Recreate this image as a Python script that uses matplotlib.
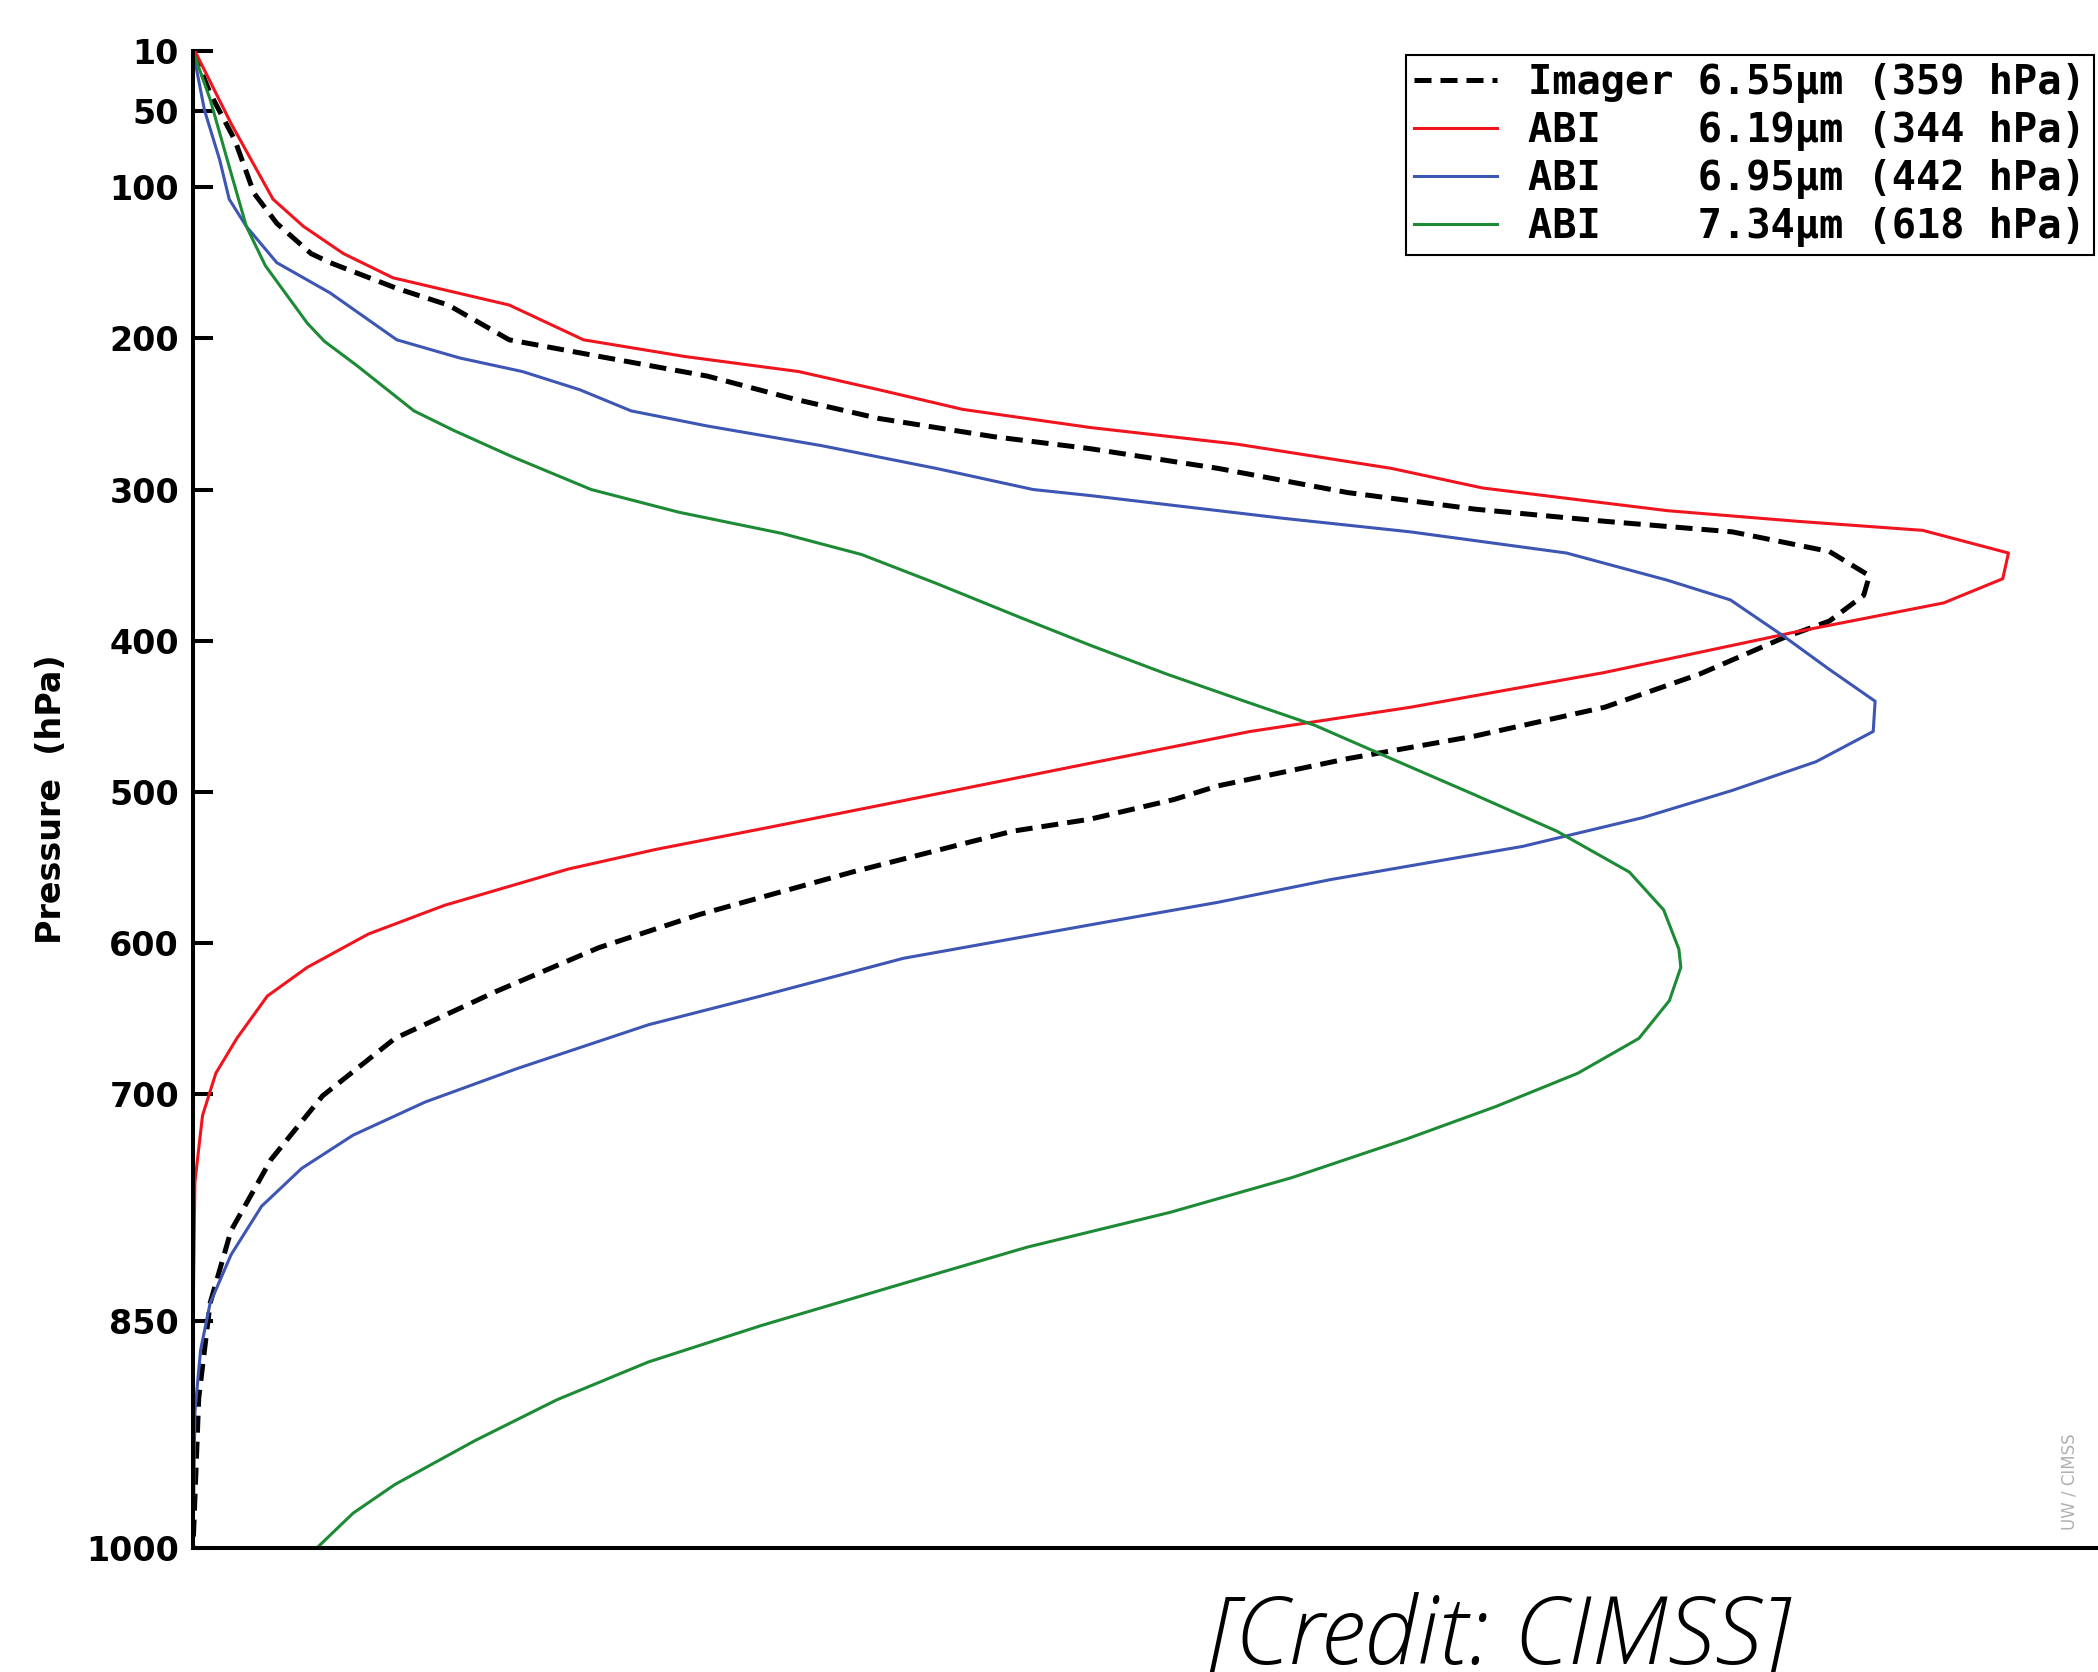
import matplotlib.pyplot as plt

# pressure (hPa) and normalized weighting function
imager_p = [10, 38, 69, 104, 124, 144, 150, 167, 178, 201, 211, 225, 240, 253, 265, 273,
            286, 302, 313, 321, 328, 341, 357, 370, 387, 398, 422, 444, 463, 478, 496,
            505, 518, 526, 553, 581, 603, 632, 663, 701, 743, 790, 838, 901, 1000]
imager_w = [0.0, 0.009, 0.022, 0.032, 0.044, 0.062, 0.072, 0.107, 0.134, 0.166, 0.209,
            0.270, 0.315, 0.360, 0.420, 0.471, 0.538, 0.606, 0.673, 0.741, 0.808, 0.859,
            0.880, 0.877, 0.859, 0.835, 0.791, 0.741, 0.673, 0.606, 0.538, 0.515, 0.471,
            0.430, 0.346, 0.266, 0.213, 0.159, 0.106, 0.068, 0.041, 0.020, 0.009, 0.003, 0.0]

abi_619_p = [10, 58, 108, 126, 144, 160, 178, 201, 212, 222, 234, 247, 259, 270, 286,
             299, 314, 321, 327, 342, 359, 375, 394, 421, 444, 460, 481, 509, 524, 538,
             551, 575, 594, 616, 635, 663, 686, 714, 758, 853, 1000]
abi_619_w = [0.001, 0.020, 0.042, 0.058, 0.079, 0.105, 0.166, 0.205, 0.258, 0.318, 0.360,
             0.404, 0.471, 0.548, 0.629, 0.677, 0.774, 0.842, 0.908, 0.953, 0.950, 0.919,
             0.842, 0.741, 0.639, 0.555, 0.471, 0.360, 0.300, 0.243, 0.197, 0.132, 0.092,
             0.060, 0.039, 0.023, 0.012, 0.005, 0.001, 0.0, 0.0]

abi_695_p = [10, 49, 82, 108, 126, 150, 170, 201, 213, 222, 234, 248, 258, 271, 286, 300,
             304, 319, 328, 342, 360, 373, 397, 419, 440, 460, 480, 499, 517, 536, 558,
             573, 587, 610, 635, 654, 683, 705, 727, 749, 774, 806, 838, 869, 910, 1000]
abi_695_w = [0.0, 0.006, 0.014, 0.019, 0.028, 0.044, 0.072, 0.107, 0.140, 0.173, 0.203,
             0.230, 0.270, 0.330, 0.390, 0.441, 0.471, 0.572, 0.639, 0.721, 0.774, 0.807,
             0.835, 0.859, 0.883, 0.882, 0.852, 0.808, 0.761, 0.698, 0.597, 0.538, 0.475,
             0.373, 0.298, 0.239, 0.170, 0.122, 0.084, 0.057, 0.036, 0.020, 0.009, 0.004,
             0.001, 0.0]

abi_734_p = [10, 42, 82, 126, 152, 190, 202, 218, 248, 261, 278, 300, 315, 329, 343, 362,
             385, 403, 422, 440, 456, 478, 502, 526, 553, 578, 604, 616, 638, 663, 686,
             708, 730, 755, 778, 801, 825, 853, 877, 902, 929, 958, 977, 1000]
abi_734_w = [0.0, 0.009, 0.018, 0.028, 0.038, 0.060, 0.069, 0.086, 0.116, 0.137, 0.167,
             0.209, 0.255, 0.309, 0.351, 0.390, 0.435, 0.471, 0.511, 0.552, 0.589, 0.629,
             0.673, 0.716, 0.754, 0.772, 0.780, 0.781, 0.775, 0.759, 0.727, 0.684, 0.636,
             0.577, 0.513, 0.438, 0.373, 0.298, 0.239, 0.191, 0.148, 0.106, 0.084, 0.065]

labels = ["Imager 6.55\u03bcm (359 hPa)",
          "ABI    6.19\u03bcm (344 hPa)",
          "ABI    6.95\u03bcm (442 hPa)",
          "ABI    7.34\u03bcm (618 hPa)"]
yticks = [10, 50, 100, 200, 300, 400, 500, 600, 700, 850, 1000]

W, H = 2098, 1672
fig = plt.figure(figsize=(W / 100, H / 100), dpi=100)
ax = fig.add_axes([193 / W, 1 - 1548 / H, 1 - 193 / W, (1548 - 51) / H])

ax.plot(imager_w, imager_p, color="black", lw=3.6, dashes=(3.4, 1.8), label=labels[0])
ax.plot(abi_619_w, abi_619_p, color="#f0141e", lw=2.2, label=labels[1])
ax.plot(abi_695_w, abi_695_p, color="#3d55b3", lw=2.2, label=labels[2])
ax.plot(abi_734_w, abi_734_p, color="#1d8a35", lw=2.2, label=labels[3])

ax.set_xlim(0, 1)
ax.set_ylim(1000, 10)
ax.set_xticks([])
ax.set_yticks(yticks)
ax.set_yticklabels([str(t) for t in yticks], fontsize=24, fontweight="bold")
ax.tick_params(axis="y", direction="in", length=14.4, width=2.9, pad=10)
ax.spines["top"].set_visible(False)
ax.spines["right"].set_visible(False)
ax.spines["left"].set_linewidth(2.9)
ax.spines["bottom"].set_linewidth(2.9)
ax.set_ylabel("Pressure  (hPa)", fontsize=24, fontweight="bold", labelpad=13)

leg = ax.legend(loc="upper right", bbox_to_anchor=(2094 / W, 1 - 55 / H),
                bbox_transform=fig.transFigure,
                prop={"family": "DejaVu Sans Mono", "weight": "bold", "size": 29},
                fancybox=False, edgecolor="black", framealpha=1,
                handlelength=2.06, handletextpad=0.77, borderpad=0.2,
                labelspacing=0.2, borderaxespad=0)
leg.get_frame().set_linewidth(1.5)

fig.text(2070 / W, 1 - 1482 / H, "UW / CIMSS", rotation=90, color="#b0b0b0",
         fontsize=12, ha="center", va="center")
fig.text(1211 / W, 1 - 1664 / H, "[Credit: CIMSS]", fontsize=68, style="italic",
         family="Open Sans", fontweight="light", ha="left", va="baseline")

fig.savefig("out.png", dpi=100)
